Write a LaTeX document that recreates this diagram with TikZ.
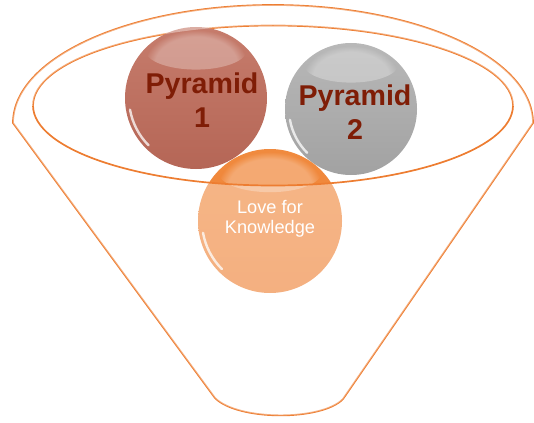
\documentclass[tikz,border=0pt]{standalone}
\usepackage{fontspec}
\setmainfont{Liberation Sans}
\usetikzlibrary{fadings}
\definecolor{funnel}{HTML}{ED7D31}
\definecolor{brick}{HTML}{C67C6C}
\definecolor{brickdark}{HTML}{B56656}
\definecolor{silver}{HTML}{B8B8B8}
\definecolor{silverdark}{HTML}{A2A2A2}
\definecolor{amber}{HTML}{F08A3E}
\definecolor{amberdark}{HTML}{EE8033}
\definecolor{maroon}{HTML}{7F1D06}
\begin{document}
\begin{tikzpicture}[x=1pt,y=-1pt,line join=round,
  ball/.style={circle,minimum size=#1,inner sep=0pt},
  rim/.style={draw=funnel,line width=1.7pt},
  gloss/.style={white,line width=2.4pt,opacity=.75,line cap=round},
  bigtext/.style={font=\fontsize{28.6}{34}\selectfont\bfseries,text=maroon,align=center},
  smalltext/.style={font=\fontsize{18.2}{20.5}\selectfont,text=white,align=center}]
  \useasboundingbox (0,0) rectangle (534,422);
  % back of the funnel
  \draw[rim] (13,123) arc (180:360:260 and 118) -- (343,399)
    .. controls (322,421) and (238,421) .. (215,398) -- cycle;
  \draw[rim] (33,105.5) arc (180:360:240 and 80);
  % the three balls
  \node[ball=142pt,top color=brick,bottom color=brickdark] (b1) at (196,98) {};
  \node[ball=132pt,top color=silver,bottom color=silverdark] (b2) at (351,109) {};
  \node[ball=144pt,top color=amber,bottom color=amberdark] (b3) at (270,221) {};
  \foreach \b/\r in {b1/71,b2/66,b3/72} {
    \fill[white,opacity=.28,path fading=circle with fuzzy edge 20 percent] (\b.center) ++(0,-\r*0.68) ellipse (\r*0.72 and \r*0.28);
    \draw[gloss] ([shift={(135:\r-4)}]\b.center) arc (135:170:\r-4);
  }
  % front of the funnel
  \fill[white,opacity=.38,even odd rule] (13,123) arc (180:360:260 and 118) -- (343,399)
    .. controls (322,421) and (238,421) .. (215,398) -- cycle
    (273,105.5) ellipse (240 and 80);
  \draw[rim] (513,105.5) arc (0:180:240 and 80);
  % labels
  \node[bigtext] (t1) at (202,100) {Pyramid\\1};
  \node[bigtext] (t2) at (355,112) {Pyramid\\2};
  \node[smalltext] (t3) at (270,219) {Love for\\Knowledge};
\end{tikzpicture}
\end{document}
